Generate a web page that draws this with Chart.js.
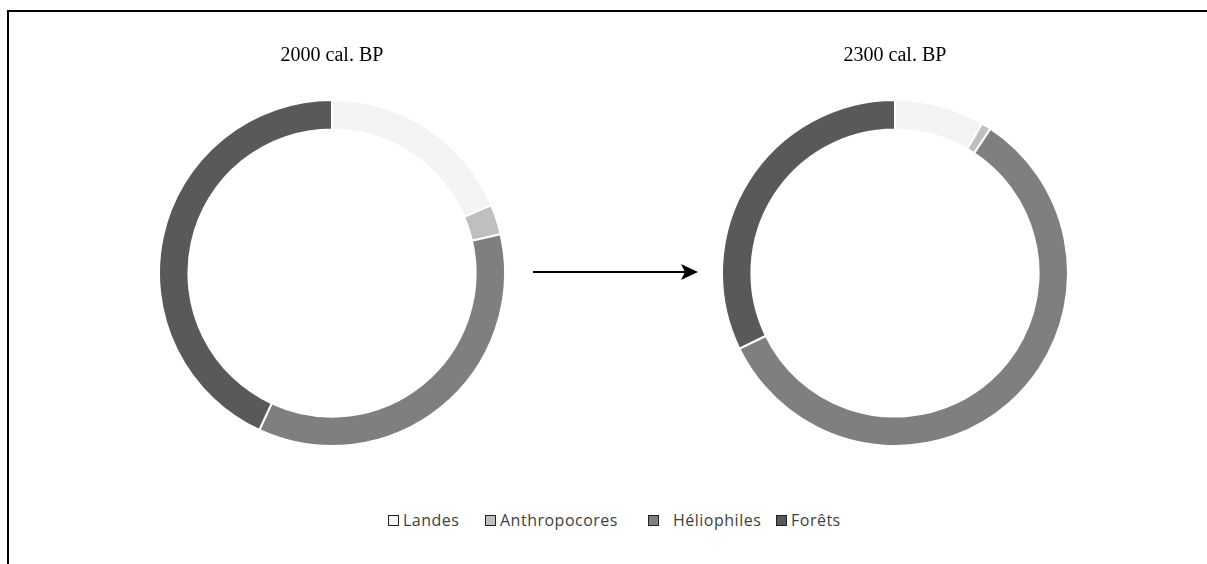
<!DOCTYPE html>
<html>
<head>
<meta charset="utf-8">
<script src="https://cdn.jsdelivr.net/npm/chart.js@4"></script>
<style>
  html, body { margin: 0; background: #fff; overflow: hidden; }
  body { width: 1207px; height: 564px; position: relative; }
  #topline { position: absolute; left: 7px; top: 10px; width: 1200px; height: 2px; background: #000; }
  #leftline { position: absolute; left: 7px; top: 10px; width: 2px; height: 554px; background: #000; }
  .pie { position: absolute; top: 44px; width: 352px; height: 403px; }
  #c1 { left: 156px; }
  #c2 { left: 719px; }
  #arrow { position: absolute; left: 525px; top: 260px; }
  #legend { position: absolute; left: 0; top: 509px; width: 1207px; height: 24px;
            font-family: "Open Sans", sans-serif; font-size: 16px; color: #404040; letter-spacing: 0.5px; }
  #legend span.item { position: absolute; white-space: nowrap; }
  #legend span.item:nth-child(1) { left: 388px; }
  #legend span.item:nth-child(2) { left: 485px; }
  #legend span.item:nth-child(3) { left: 648px; }
  #legend span.item:nth-child(4) { left: 776px; }
  #legend span.item:nth-child(3) span.box { margin-right: 14px; }
  #legend span.box { display: inline-block; width: 9px; height: 9px; border: 1px solid #222;
                     margin-right: 4px; vertical-align: 0px; }
</style>
</head>
<body>
<div id="topline"></div>
<div id="leftline"></div>
<canvas id="c1" class="pie" width="352" height="403"></canvas>
<canvas id="c2" class="pie" width="352" height="403"></canvas>
<canvas id="arrow" width="180" height="24"></canvas>
<div id="legend"></div>
<script>
var labels = ['Landes', 'Anthropocores', 'Héliophiles', 'Forêts'];
var colors = ['#f2f3f5', '#bfbfbf', '#7f7f7f', '#595959'];
var values2000 = [18.6, 2.8, 35.5, 43.1];
var values2300 = [8.4, 0.9, 58.5, 32.2];
var titles = ['2000 cal. BP', '2300 cal. BP'];

function makeDonut(id, data, title) {
  return new Chart(document.getElementById(id), {
    type: 'doughnut',
    data: {
      labels: labels,
      datasets: [{
        data: data,
        backgroundColor: colors,
        borderColor: '#ffffff',
        borderWidth: 2
      }]
    },
    options: {
      responsive: false,
      animation: false,
      cutout: '83%',
      layout: { padding: 0 },
      plugins: {
        legend: { display: false },
        tooltip: { enabled: false },
        title: {
          display: true,
          text: title,
          color: '#000',
          font: { family: '"Liberation Serif", "Times New Roman", serif', size: 20, weight: 'normal', lineHeight: 1.2 },
          padding: { top: 0, bottom: 31 }
        }
      }
    }
  });
}

makeDonut('c1', values2000, titles[0]);
makeDonut('c2', values2300, titles[1]);

// arrow between the two rings
var ctx = document.getElementById('arrow').getContext('2d');
ctx.strokeStyle = '#000';
ctx.lineWidth = 2;
ctx.beginPath();
ctx.moveTo(8, 12);
ctx.lineTo(160, 12);
ctx.stroke();
ctx.fillStyle = '#000';
ctx.beginPath();
ctx.moveTo(173, 12);
ctx.lineTo(156, 4);
ctx.lineTo(160, 12);
ctx.lineTo(156, 20);
ctx.closePath();
ctx.fill();

// legend
var leg = document.getElementById('legend');
for (var i = 0; i < labels.length; i++) {
  var item = document.createElement('span');
  item.className = 'item';
  var box = document.createElement('span');
  box.className = 'box';
  box.style.background = colors[i];
  item.appendChild(box);
  item.appendChild(document.createTextNode(labels[i]));
  leg.appendChild(item);
}
</script>
</body>
</html>
